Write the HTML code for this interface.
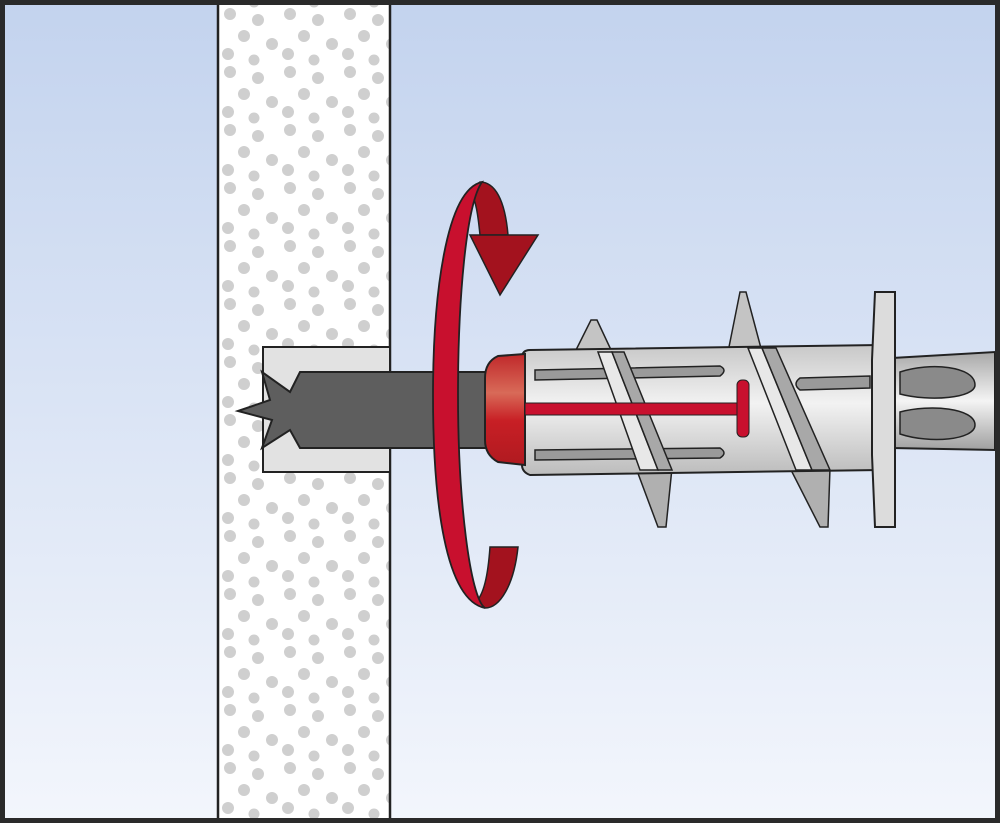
<!DOCTYPE html>
<html><head><style>html,body{margin:0;padding:0;background:#fff}svg{display:block}</style></head>
<body>
<svg width="1000" height="823" viewBox="0 0 1000 823" xmlns="http://www.w3.org/2000/svg">
<defs>
<linearGradient id="bg" x1="0" y1="0" x2="0" y2="1"><stop offset="0" stop-color="#c3d3ee"/><stop offset="1" stop-color="#f3f6fc"/></linearGradient>
<linearGradient id="body" x1="0" y1="0" x2="0" y2="1"><stop offset="0" stop-color="#c8c8c8"/><stop offset="0.45" stop-color="#f2f2f2"/><stop offset="1" stop-color="#bcbcbc"/></linearGradient>
<linearGradient id="cap" x1="0" y1="0" x2="0" y2="1"><stop offset="0" stop-color="#c0282a"/><stop offset="0.35" stop-color="#d86a58"/><stop offset="0.6" stop-color="#c81f25"/><stop offset="1" stop-color="#b01a20"/></linearGradient>
<linearGradient id="shaft" x1="0" y1="0" x2="0" y2="1"><stop offset="0" stop-color="#a8a8a8"/><stop offset="0.5" stop-color="#f4f4f4"/><stop offset="1" stop-color="#a0a0a0"/></linearGradient>
<pattern id="dots" width="60" height="58" patternUnits="userSpaceOnUse" x="222" y="8">
<circle cx="8" cy="6" r="6" fill="#cfcfcf"/><circle cx="36" cy="12" r="6" fill="#cfcfcf"/>
<circle cx="22" cy="28" r="6" fill="#cfcfcf"/><circle cx="50" cy="36" r="6" fill="#cfcfcf"/>
<circle cx="6" cy="46" r="6" fill="#cfcfcf"/><circle cx="32" cy="52" r="5.5" fill="#cfcfcf"/>
</pattern>
</defs>
<rect x="0" y="0" width="1000" height="823" fill="url(#bg)"/>
<rect x="218" y="0" width="172" height="823" fill="#fff"/>
<rect x="218" y="0" width="172" height="823" fill="url(#dots)"/>
<line x1="218" y1="0" x2="218" y2="823" stroke="#222" stroke-width="2.5"/>
<line x1="390" y1="0" x2="390" y2="823" stroke="#222" stroke-width="2.5"/>
<rect x="263" y="347" width="127" height="125" fill="#e2e2e2" stroke="#222" stroke-width="2"/>
<path d="M238,411 L270,400 L262,372 L290,392 L300,372 L490,372 L490,448 L300,448 L290,430 L262,448 L272,420 Z" fill="#5e5e5e" stroke="#222" stroke-width="2"/>
<path d="M892,358 L995,352 L995,450 L892,448 Z" fill="url(#shaft)" stroke="#222" stroke-width="2"/>
<path d="M900,372 C930,362 975,366 975,385 C975,398 930,402 900,394 Z" fill="#8a8a8a" stroke="#222" stroke-width="1.5"/>
<path d="M900,412 C930,404 975,408 975,425 C975,440 930,444 900,434 Z" fill="#8a8a8a" stroke="#222" stroke-width="1.5"/>
<!-- fins behind body -->
<polygon points="575,352 591,320 597,320 612,352" fill="#c4c4c4" stroke="#222" stroke-width="1.5"/>
<polygon points="728,352 740,292 746,292 762,352" fill="#c4c4c4" stroke="#222" stroke-width="1.5"/>
<polygon points="636,468 672,468 666,527 658,527" fill="#b0b0b0" stroke="#222" stroke-width="1.5"/>
<polygon points="790,468 830,468 828,527 820,527" fill="#b0b0b0" stroke="#222" stroke-width="1.5"/>
<path d="M530,350 L880,345 L880,470 L530,475 Q522,472 522,465 L522,358 Q522,350 530,350 Z" fill="url(#body)" stroke="#222" stroke-width="2"/>
<path d="M535,370 L720,366 Q728,370 720,376 L535,380 Z" fill="#9a9a9a" stroke="#222" stroke-width="1.5"/>
<path d="M535,450 L720,448 Q728,453 720,458 L535,460 Z" fill="#9a9a9a" stroke="#222" stroke-width="1.5"/>
<path d="M800,378 L870,376 L870,388 L800,390 Q792,384 800,378 Z" fill="#9a9a9a" stroke="#222" stroke-width="1.5"/>
<!-- helix bands -->
<path d="M598,352 L612,352 L658,470 L640,470 Z" fill="#e8e8e8" stroke="#222" stroke-width="1.5"/>
<path d="M612,352 L624,352 L672,470 L658,470 Z" fill="#a8a8a8" stroke="#222" stroke-width="1.5"/>
<path d="M748,348 L762,348 L812,470 L796,470 Z" fill="#e8e8e8" stroke="#222" stroke-width="1.5"/>
<path d="M762,348 L776,348 L830,470 L812,470 Z" fill="#a8a8a8" stroke="#222" stroke-width="1.5"/>
<path d="M875,292 L895,292 L895,527 L875,527 L872,455 L872,360 Z" fill="#dcdcdc" stroke="#222" stroke-width="2"/>
<path d="M498,356 L525,354 L525,465 L498,462 Q485,455 485,440 L485,378 Q485,362 498,356 Z" fill="url(#cap)" stroke="#222" stroke-width="2"/>
<rect x="525" y="403" width="220" height="12" fill="#c8102e" stroke="#222" stroke-width="1"/>
<rect x="737" y="380" width="12" height="57" rx="5" fill="#c8102e" stroke="#222" stroke-width="1"/>
<path d="M480,182 C495,182 505,200 508,235 L480,235 C478,215 476,200 470,190 Z" fill="#a3121e" stroke="#222" stroke-width="1.5"/>
<polygon points="470,235 538,235 500,295" fill="#a3121e" stroke="#222" stroke-width="1.5"/>
<path d="M485,608 C500,608 514,585 518,547 L490,547 C488,575 484,595 475,603 Z" fill="#a3121e" stroke="#222" stroke-width="1.5"/>
<path d="M482,182 C445,190 433,300 433,395 C433,500 445,600 485,608 C470,598 458,500 458,395 C458,300 466,205 482,182 Z" fill="#c8102e" stroke="#222" stroke-width="1.8"/>
<rect x="2.5" y="2.5" width="995" height="818" fill="none" stroke="#2a2a2a" stroke-width="5"/>
</svg>
</body></html>
